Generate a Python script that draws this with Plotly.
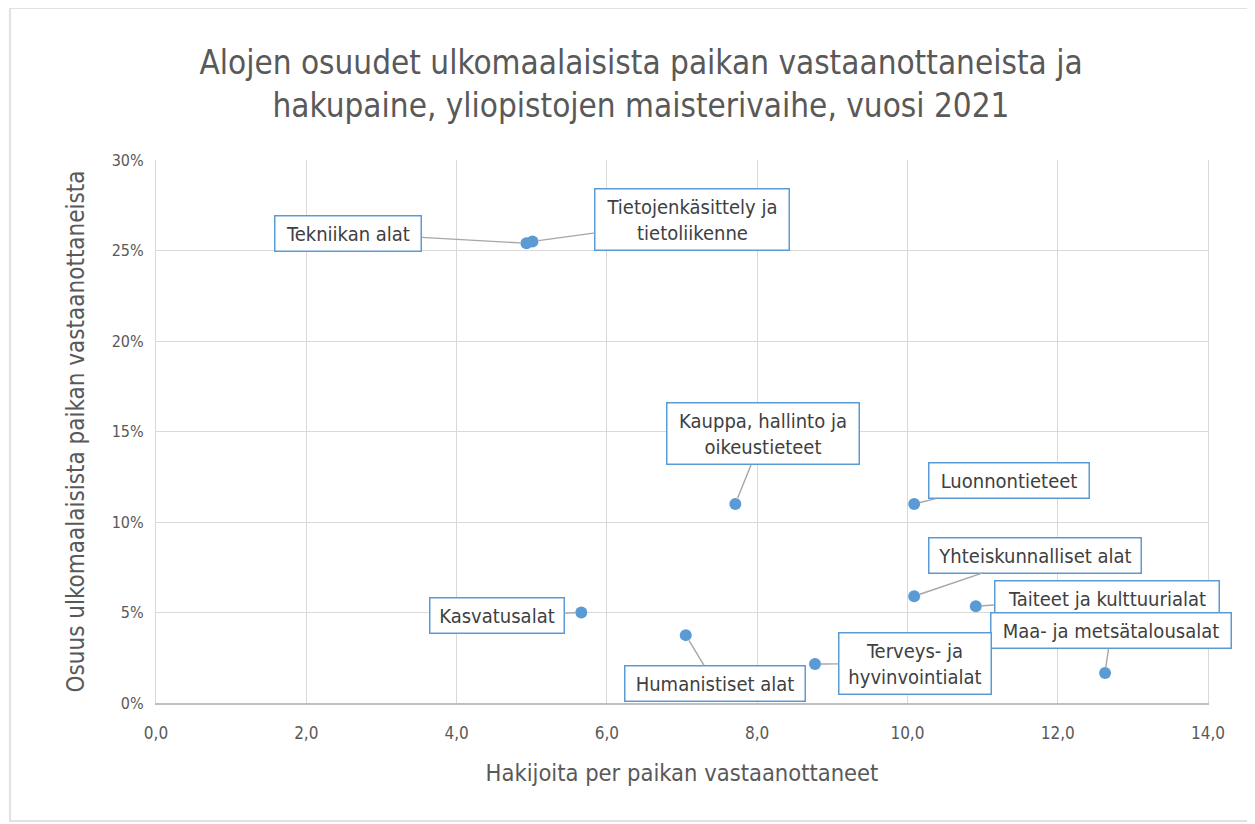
import plotly.graph_objects as go

# Data
fields = [
    "Tekniikan alat",
    "Tietojenkäsittely ja<br>tietoliikenne",
    "Kauppa, hallinto ja<br>oikeustieteet",
    "Luonnontieteet",
    "Yhteiskunnalliset alat",
    "Taiteet ja kulttuurialat",
    "Maa- ja metsätalousalat",
    "Kasvatusalat",
    "Humanistiset alat",
    "Terveys- ja<br>hyvinvointialat",
]
applicants_per_place = [4.93, 5.01, 7.71, 10.09, 10.09, 10.91, 12.63, 5.66, 7.05, 8.77]
foreign_share = [0.254, 0.255, 0.110, 0.110, 0.059, 0.0535, 0.0166, 0.050, 0.0375, 0.0215]

x_ticks = [0, 2, 4, 6, 8, 10, 12, 14]
x_tick_labels = ["0,0", "2,0", "4,0", "6,0", "8,0", "10,0", "12,0", "14,0"]
y_ticks = [0, 0.05, 0.10, 0.15, 0.20, 0.25, 0.30]
y_tick_labels = ["0%", "5%", "10%", "15%", "20%", "25%", "30%"]

# label box offsets (pixels from the point to the label centre) and box widths
label_offsets = [(-178, -10), (160, -22), (28, -70), (95, -23), (121, -41),
                 (131, -8), (6, -42), (-84, 3), (29, 48), (100, -1)]
label_widths = [135, 183, 181, 149, 201, 213, 229, 123, 169, 141]

FONT = "Liberation Sans Narrow, DejaVu Sans Condensed, Open Sans, sans-serif"
GRID = "#D9D9D9"
TXT = "#595959"

W, H = 1247, 816
ML, MR, MT, MB = 148, 47, 152, 121
PW, PH = W - ML - MR, H - MT - MB

fig = go.Figure()
fig.add_trace(go.Scatter(
    x=applicants_per_place, y=foreign_share, mode="markers",
    marker=dict(color="#5B9BD5", size=12, line=dict(width=0)),
    hoverinfo="skip", showlegend=False,
))

for name, xv, yv, (ax, ay), wd in zip(fields, applicants_per_place, foreign_share,
                                       label_offsets, label_widths):
    fig.add_annotation(
        x=xv, y=yv, xref="x", yref="y", text=name,
        showarrow=True, ax=ax, ay=ay, axref="pixel", ayref="pixel",
        arrowhead=0, arrowwidth=1.4, arrowcolor="#A6A6A6", standoff=6,
        font=dict(family=FONT, size=20, color="#404040"),
        bgcolor="white", bordercolor="#5B9BD5", borderwidth=1.5, borderpad=5,
        align="center", width=wd,
    )

# outer chart border
fig.add_shape(type="rect", xref="paper", yref="paper",
              x0=(2 - ML) / PW, x1=(1242 - ML) / PW,
              y0=(PH + MT - 813) / PH, y1=(PH + MT) / PH,
              line=dict(color=GRID, width=1.5), layer="below")

fig.update_layout(
    width=W, height=H,
    margin=dict(l=ML, r=MR, t=MT, b=MB),
    paper_bgcolor="white", plot_bgcolor="white",
    font=dict(family=FONT, color=TXT),
    title=dict(
        text="Alojen osuudet ulkomaalaisista paikan vastaanottaneista ja<br>hakupaine, yliopistojen maisterivaihe, vuosi 2021",
        x=633 / W, xref="container", xanchor="center", y=0.919, yanchor="middle",
        font=dict(family=FONT, size=33, color=TXT),
    ),
    xaxis=dict(
        range=[0, 14], tickvals=x_ticks, ticktext=x_tick_labels,
        showgrid=True, gridcolor=GRID, gridwidth=1.3,
        zeroline=False, showline=True, linecolor="#BFBFBF", linewidth=1.5,
        ticks="", tickfont=dict(size=17, color=TXT), ticklabelstandoff=14,
        title=dict(text="Hakijoita per paikan vastaanottaneet", font=dict(size=23.5, color=TXT), standoff=22),
    ),
    yaxis=dict(
        range=[0, 0.30], tickvals=y_ticks, ticktext=y_tick_labels,
        showgrid=True, gridcolor=GRID, gridwidth=1.3,
        zeroline=False, showline=True, mirror=True, linecolor=GRID, linewidth=1.3,
        ticks="", tickfont=dict(size=16, color=TXT), ticklabelstandoff=8,
        title=dict(text="Osuus ulkomaalaisista paikan vastaanottaneista", font=dict(size=24, color=TXT), standoff=20),
    ),
)

fig.write_html("out.html")
